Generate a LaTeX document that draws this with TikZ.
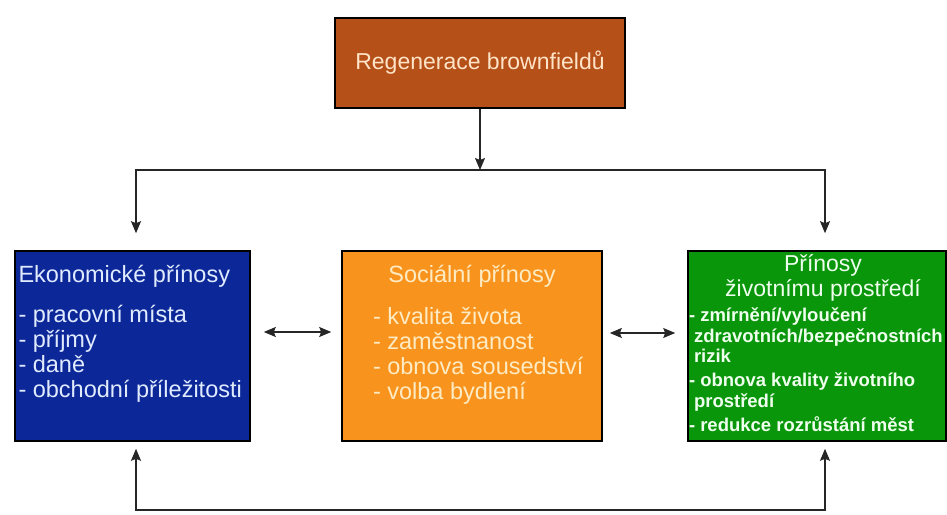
\documentclass[tikz,border=0pt]{standalone}
\usepackage{fontspec}
\setmainfont{Liberation Sans}
\usetikzlibrary{shapes.geometric, arrows.meta}
\definecolor{regbrown}{RGB}{181,80,24}
\definecolor{ekoblue}{RGB}{12,40,152}
\definecolor{socorange}{RGB}{248,148,30}
\definecolor{envgreen}{RGB}{10,150,10}
\definecolor{regtext}{RGB}{255,228,200}
\definecolor{ekotext}{RGB}{225,235,255}
\definecolor{soctext}{RGB}{255,235,195}
\definecolor{envtext}{RGB}{238,255,238}
\tikzstyle{topbox} = [rectangle, 
minimum width=290pt, 
minimum height=90pt,
text centered, 
draw=black, line width=1.6pt,
fill=regbrown, text=regtext,
font=\fontsize{23}{25}\selectfont]
\tikzstyle{ekobox} = [rectangle, 
minimum width=235pt, 
inner xsep=0pt, inner ysep=0pt,
text width=228pt, text height=32pt, text depth=158pt,
align=flush left, 
draw=black, line width=1.6pt,
fill=ekoblue, text=ekotext,
font=\fontsize{23.5}{25}\selectfont]
\tikzstyle{socbox} = [rectangle, 
minimum width=260pt, 
inner xsep=0pt, inner ysep=0pt,
text width=232pt, text height=32pt, text depth=158pt,
align=flush left, 
draw=black, line width=1.6pt,
fill=socorange, text=soctext,
font=\fontsize{23.5}{25}\selectfont]
\tikzstyle{envbox} = [rectangle, 
minimum width=258pt, 
inner xsep=0pt, inner ysep=0pt,
text width=256pt, text height=21pt, text depth=169pt,
align=flush left, 
draw=black, line width=1.6pt,
fill=envgreen, text=envtext,
font=\fontsize{23}{25}\selectfont]
\tikzstyle{arrow} = [line width=1.1pt, draw=black!85, ->, >={Stealth[length=12pt, width=10pt, inset=2pt]}]
\begin{document}
\begin{tikzpicture}[x=1pt, y=1pt, node distance=283pt]
\useasboundingbox (0,0) rectangle (947,514);

\node (reg) [topbox] at (480,451) {Regenerace brownfieldů};

\node (soc) [socbox, below of=reg, xshift=-8pt] {\leftskip=17pt{\centering\leftskip=0pt plus 1fil Sociální přínosy\par}\vspace{17pt}- kvalita života\\- zaměstnanost\\- obnova sousedství\\- volba bydlení\par};

\node (eko) [ekobox, left of=soc, xshift=-56.5pt] {Ekonomické přínosy\\[15pt]- pracovní místa\\- příjmy\\- daně\\- obchodní příležitosti\par};

\node (env) [envbox, right of=soc, xshift=62pt] {{\centering\leftskip=12pt plus 1fil Přínosy\\životnímu prostředí\par}\vspace{4.5pt}{\fontsize{18.5}{20.5}\bfseries - zmírnění/vyloučení\\\hspace*{5pt}zdravotních/bezpečnostních\\\hspace*{5pt}rizik\\[3.5pt]- obnova kvality životního\\\hspace*{5pt}prostředí\\[3.5pt]- redukce rozrůstání měst\par}};

\coordinate (fork) at (480,344);
\coordinate (base) at (480,4);

\draw [arrow] (reg.south) -- (fork);
\draw [arrow, <->, shorten <=17pt, shorten >=17pt] ([xshift=3.5pt]eko.north) |- (fork) -| ([xshift=8pt]env.north);
\draw [arrow, <->, shorten <=13pt, shorten >=10pt] ([yshift=14pt]eko.east) -- ([yshift=14pt]soc.west);
\draw [arrow, <->, shorten <=7pt, shorten >=12pt] ([yshift=13pt]soc.east) -- ([yshift=13pt]env.west);
\draw [arrow, <->, shorten <=7pt, shorten >=7pt] ([xshift=3.5pt]eko.south) |- (base) -| ([xshift=8pt]env.south);
\end{tikzpicture}
\end{document}
